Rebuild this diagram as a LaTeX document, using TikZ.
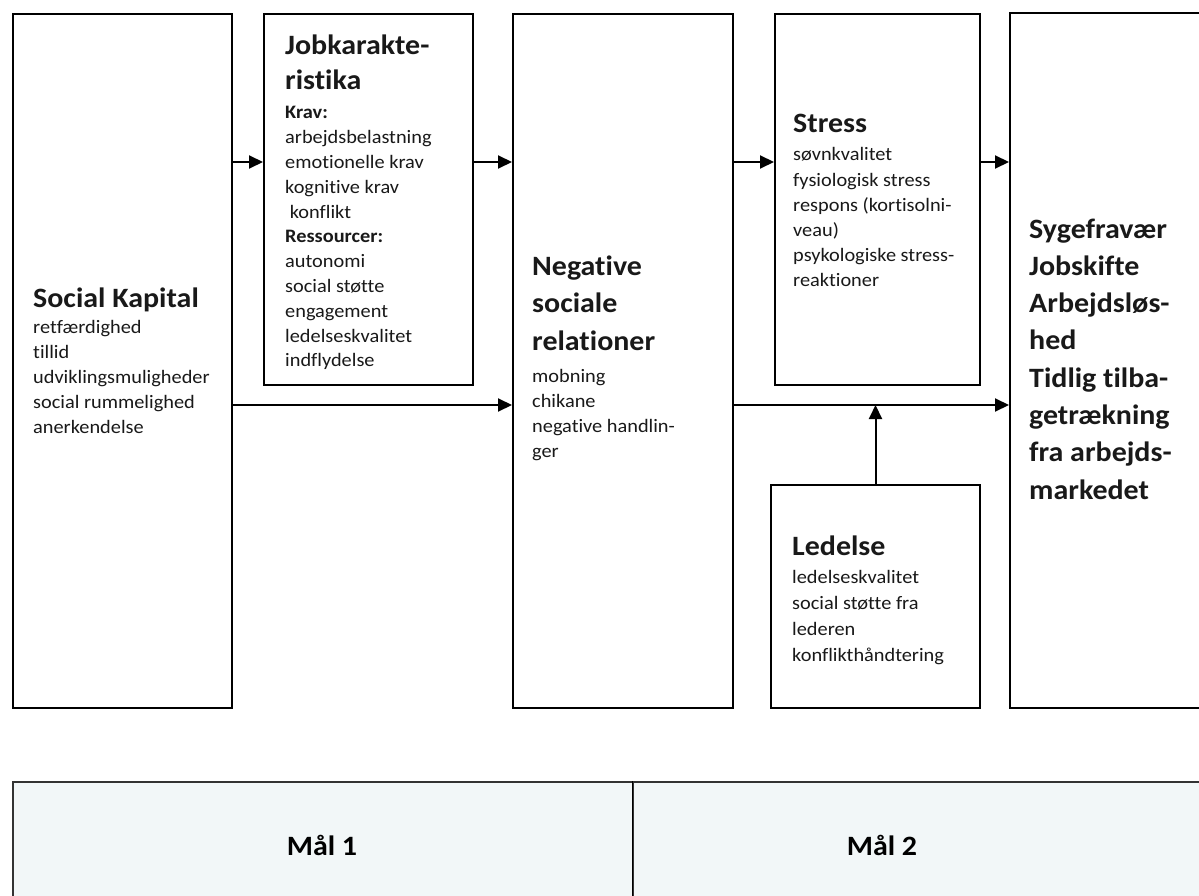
\documentclass[tikz,border=0pt]{standalone}
\usepackage{fontspec}
\setmainfont{Carlito}[FakeStretch=1.07,Ligatures=NoCommon]
\usetikzlibrary{arrows.meta}
\definecolor{tblfill}{HTML}{F2F7F8}
\newcommand{\linestack}[2]{\vtop{\baselineskip=#1\relax\lineskiplimit=-100pt\relax\lineskip=0pt\relax\halign{##\hfil\cr#2\crcr}}}
\newcommand{\ttlfont}{\fontsize{28}{35}\selectfont\bfseries}
\newcommand{\itmfont}{\fontsize{19}{25}\selectfont}
\begin{document}
\begin{tikzpicture}[x=1pt,y=-1pt,
  box/.style={draw=black, line width=2pt, inner sep=0pt, fill=white, anchor=north west},
  txt/.style={anchor=base west, inner sep=0pt, text=black!90},
  arr/.style={line width=2pt, -{Triangle[length=14pt,width=13pt]}},
  cell/.style={draw=black!80, line width=1.8pt, fill=tblfill, inner sep=0pt, anchor=north west},
  mal/.style={inner sep=0pt, font=\ttlfont}]
\fill[white] (0,0) rectangle (1199,896);
\useasboundingbox (0,0) rectangle (1199,896);

% boxes
\node[box, minimum width=219pt, minimum height=694pt] (sk) at (12,13) {};
\node[box, minimum width=209pt, minimum height=371pt] (jk) at (263,13) {};
\node[box, minimum width=220pt, minimum height=694pt] (ns) at (512,13) {};
\node[box, minimum width=205pt, minimum height=371pt] (st) at (774,13) {};
\node[box, minimum width=220pt, minimum height=695pt] (sy) at (1009,12) {};
\node[box, minimum width=209pt, minimum height=223pt] (le) at (770,484) {};

% texts
\node[txt, font=\ttlfont] (skt) at (33,307) {Social Kapital};
\node[txt, font=\itmfont] (ski) at (33,333) {\linestack{25pt}{retfærdighed\cr tillid\cr udviklingsmuligheder\cr social rummelighed\cr anerkendelse}};

\node[txt, font=\ttlfont] (jkt) at (285,55) {\linestack{35pt}{Jobkarakte-\cr ristika}};
\node[txt, font=\itmfont] (jki) at (285,119) {\linestack{24.8pt}{\textbf{Krav:}\cr arbejdsbelastning\cr emotionelle krav\cr kognitive krav\cr \ konflikt\cr \textbf{Ressourcer:}\cr autonomi\cr social støtte\cr engagement\cr ledelseskvalitet\cr indflydelse}};

\node[txt, font=\ttlfont] (nst) at (532,275) {\linestack{37.5pt}{Negative\cr sociale\cr relationer}};
\node[txt, font=\itmfont] (nsi) at (532,382) {\linestack{25pt}{mobning\cr chikane\cr negative handlin-\cr ger}};

\node[txt, font=\ttlfont] (stt) at (793,133) {Stress};
\node[txt, font=\itmfont] (sti) at (793,161) {\linestack{25.2pt}{søvnkvalitet\cr fysiologisk stress\cr respons (kortisolni-\cr veau)\cr psykologiske stress-\cr reaktioner}};

\node[txt, font=\ttlfont] (syt) at (1029,238) {\linestack{37.3pt}{Sygefravær\cr Jobskifte\cr Arbejdsløs-\cr hed\cr Tidlig tilba-\cr getrækning\cr fra arbejds-\cr markedet}};

\node[txt, font=\ttlfont] (let) at (792,555) {Ledelse};
\node[txt, font=\itmfont] (lei) at (792,583) {\linestack{26pt}{ledelseskvalitet\cr social støtte fra\cr lederen\cr konflikthåndtering}};

% connectors
\coordinate (r1) at (0,162);
\coordinate (r2) at (0,405);
\draw[arr] (sk.east |- r1) -- (jk.west |- r1);
\draw[arr] (jk.east |- r1) -- (ns.west |- r1);
\draw[arr] (ns.east |- r1) -- (st.west |- r1);
\draw[arr] (st.east |- r1) -- (sy.west |- r1);
\draw[arr] (sk.east |- r2) -- (ns.west |- r2);
\draw[arr] (ns.east |- r2) -- (sy.west |- r2);
\draw[arr] (le.north) -- (le.north |- r2);

% bottom table
\node[cell, minimum width=620pt, minimum height=140pt] (m1) at (12,781) {};
\node[cell, minimum width=620pt, minimum height=140pt] (m2) at (632,781) {};
\draw[black, line width=1pt] (m2.north west) -- (m2.south west);
\node[mal] (m1t) at (322,845) {Mål 1};
\node[mal] (m2t) at (882,845) {Mål 2};
\end{tikzpicture}
\end{document}
